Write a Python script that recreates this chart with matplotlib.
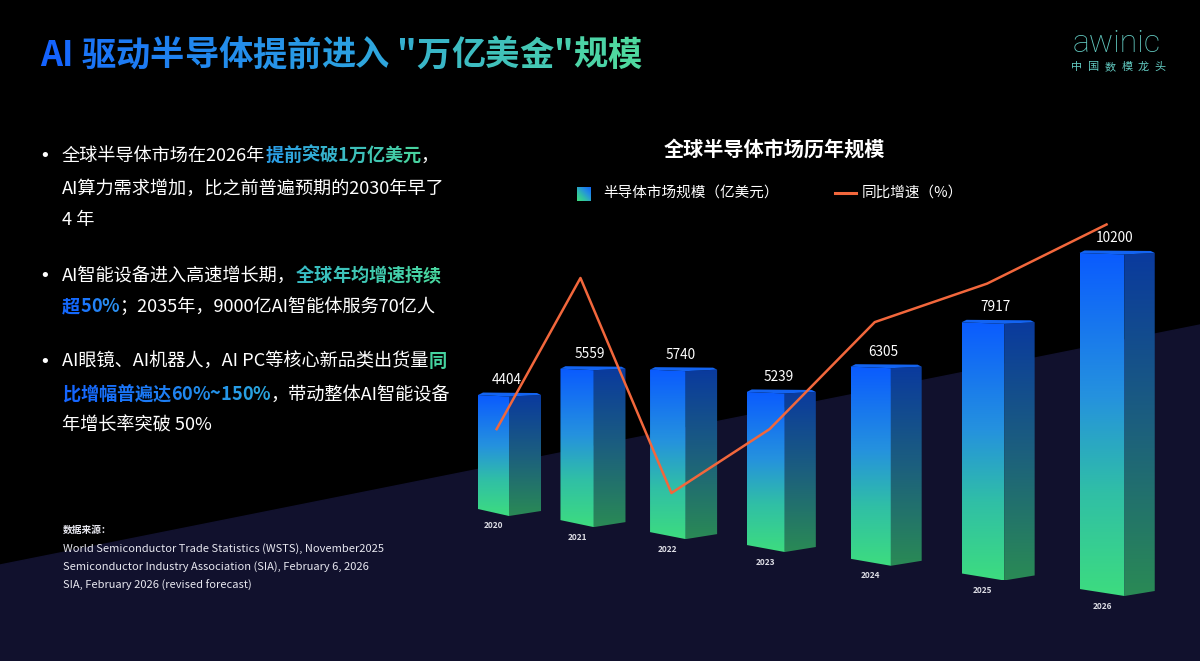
import numpy as np
import matplotlib
matplotlib.use("Agg")
import matplotlib.pyplot as plt
from matplotlib.colors import LinearSegmentedColormap, to_rgb
from matplotlib.patches import Polygon

plt.rcParams["font.family"] = ["Noto Sans CJK SC", "DejaVu Sans"]

# data
years = ["2020", "2021", "2022", "2023", "2024", "2025", "2026"]
market_size = [4404, 5559, 5740, 5239, 6305, 7917, 10200]  # 亿美元
yoy_growth = [10.1, 26.2, 3.3, 10.1, 21.5, 25.6, 31.9]

title_text = "AI 驱动半导体提前进入 \"万亿美金\"规模"
chart_title = "全球半导体市场历年规模"
legend_bar = "半导体市场规模（亿美元）"
legend_line = "同比增速（%）"
sources = [
    "World Semiconductor Trade Statistics (WSTS), November2025",
    "Semiconductor Industry Association (SIA), February 6, 2026",
    "SIA, February 2026 (revised forecast)",
]

# colours
front_cmap = LinearSegmentedColormap.from_list(
    "front", [(0, "#0a5bff"), (0.42, "#2592de"), (0.7, "#30bfa6"), (1, "#3ddc7f")])
side_cmap = LinearSegmentedColormap.from_list(
    "side", [(0, "#0a3a9e"), (0.5, "#1c5f7e"), (1, "#2a8a55")])
title_cmap = LinearSegmentedColormap.from_list(
    "title", ["#1463ff", "#2a9fe2", "#4fd8a0"])

fig = plt.figure(figsize=(12, 6.61), dpi=100, facecolor="black")
ax = fig.add_axes([0, 0, 1, 1])
ax.set_facecolor("black")
ax.set_xlim(0, 1200)
ax.set_ylim(661, 0)
ax.set_autoscale_on(False)
ax.axis("off")

# dark floor
ax.add_patch(Polygon([(0, 565), (1200, 325), (1200, 661), (0, 661)],
                     closed=True, color="#11112d", zorder=0))


def blend(c0, c1, t):
    a, b = np.array(to_rgb(c0)), np.array(to_rgb(c1))
    return tuple(a + (b - a) * t)


def draw_runs(x, y, runs, size):
    """runs: (text, colour, end colour or None, bold)"""
    prev = None
    for text, c0, c1, bold in runs:
        pieces = list(text) if c1 else [text]
        for k, ch in enumerate(pieces):
            col = blend(c0, c1, k / max(len(pieces) - 1, 1)) if c1 else c0
            kw = dict(fontsize=size, color=col, fontweight="bold" if bold else "normal")
            if prev is None:
                prev = ax.text(x, y, ch, ha="left", va="center", **kw)
            else:
                prev = ax.annotate(ch, xy=(1, 0), xycoords=prev, ha="left", va="bottom", **kw)


# title, gradient per character
prev = None
n = len(title_text)
for k, ch in enumerate(title_text):
    col = title_cmap(k / (n - 1))
    if prev is None:
        prev = ax.text(40, 55, ch, fontsize=24.7, fontweight="bold", color=col, ha="left", va="center")
    else:
        prev = ax.annotate(ch, xy=(1, 0), xycoords=prev, fontsize=24.7, fontweight="bold",
                           color=col, ha="left", va="bottom")

# logo
ax.text(1117, 43, "awinic", fontsize=23, color="#62c9c0", ha="center", va="center",
        family=["Roboto", "DejaVu Sans"], fontweight="light")
for k, ch in enumerate("中国数模龙头"):
    ax.text(1077 + k * 16.6, 67, ch, fontsize=8, color="#62c9c0", ha="center", va="center")

# bullets
W = "white"
bullet_lines = [
    (156, True, [("全球半导体市场在2026年", W, None, False),
                 ("提前突破1万亿美元", "#2b9fe6", "#48d3a0", True),
                 ("，", W, None, False)]),
    (189, False, [("AI算力需求增加，比之前普遍预期的2030年早了", W, None, False)]),
    (220, False, [("4 年", W, None, False)]),
    (276, True, [("AI智能设备进入高速增长期，", W, None, False),
                 ("全球年均增速持续", "#38bcc4", "#48d6a0", True)]),
    (307, False, [("超50%", "#1469ff", "#2a8ff2", True),
                  ("；2035年，9000亿AI智能体服务70亿人", W, None, False)]),
    (362, True, [("AI眼镜、AI机器人，AI PC等核心新品类出货量", W, None, False),
                 ("同", "#45d3a0", None, True)]),
    (394, False, [("比增幅普遍达60%~150%", "#1566ff", "#2aa5e0", True),
                  ("，带动整体AI智能设备", W, None, False)]),
    (426, False, [("年增长率突破 50%", W, None, False)]),
]
for y, has_dot, runs in bullet_lines:
    if has_dot:
        ax.text(45, y, "•", fontsize=13, color=W, ha="center", va="center",
                family=["DejaVu Sans"])
    draw_runs(62, y, runs, 13.1)

# sources
ax.text(63, 530, "数据来源：", fontsize=7, color="#e8e8f0", fontweight="bold", ha="left", va="center")
for k, s in enumerate(sources):
    ax.text(63, 549 + k * 18, s, fontsize=8, color="#e8e8f0", ha="left", va="center")

# chart title and legend
ax.text(774, 149, chart_title, fontsize=14.5, fontweight="bold", color=W, ha="center", va="center")
gx, gy = np.meshgrid(np.linspace(0, 1, 32), np.linspace(0, 1, 32))
ax.imshow(front_cmap(1 - (gx + (1 - gy)) / 2 * 0.9), extent=(577, 591, 201, 187),
          origin="upper", aspect="auto", zorder=3)
ax.text(603, 193, legend_bar, fontsize=10.5, color=W, ha="left", va="center")
ax.plot([835, 856], [193, 193], color="#f2673c", lw=2.2)
ax.text(862, 193, legend_line, fontsize=10.5, color=W, ha="left", va="center")

# pseudo 3D bars in perspective
grad = np.linspace(0, 1, 256).reshape(-1, 1)
line_x = []
for i, (yr, v) in enumerate(zip(years, market_size)):
    xl = 478 + 78.9 * i + 3.56 * i ** 2
    wf = 31 + 2.33 * i
    ws = 32 - 0.3 * i
    xc, xr = xl + wf, xl + wf + ws
    yb = 516 + 10.67 * i + 0.444 * i ** 2
    k = 0.02747 + 0.001027 * i
    yt = yb - v * k

    front = Polygon([(xl, yt), (xc, yt + 1.5), (xc, yb), (xl, yb - 7)],
                    closed=True, transform=ax.transData)
    side = Polygon([(xc, yt + 1.5), (xr, yt), (xr, yb - 5), (xc, yb)],
                   closed=True, transform=ax.transData)
    im = ax.imshow(front_cmap(grad), extent=(xl, xc, yb, yt), origin="upper",
                   aspect="auto", zorder=2, interpolation="bilinear")
    im.set_clip_path(front)
    im = ax.imshow(side_cmap(grad), extent=(xc, xr, yb, yt), origin="upper",
                   aspect="auto", zorder=2, interpolation="bilinear")
    im.set_clip_path(side)
    ax.add_patch(Polygon([(xl, yt), (xc, yt + 1.5), (xr, yt), (xr - 4, yt - 2), (xl + 5, yt - 2.5)],
                         closed=True, color="#1364f2", zorder=2.5, lw=0))

    ax.text((xl + xr) / 2 - 3, yt - 15, f"{v}", fontsize=9.8, color=W, ha="center", va="center",
            zorder=4)
    ax.text(xl + wf / 2, yb + 10, yr, fontsize=6, color="#dcdce4", fontweight="bold",
            ha="center", va="center")
    line_x.append(xl + 0.6 * wf)

ax.set_xlim(0, 1200)
ax.set_ylim(661, 0)

# growth line on its own axis (0% sits near the bar base)
ax2 = fig.add_axes([0, 0, 1, 1])
ax2.patch.set_alpha(0)
ax2.set_xlim(0, 1200)
ax2.set_ylim(-137 / 9.39, 524 / 9.39)
ax2.axis("off")
ax2.plot(line_x, yoy_growth, color="#f2673c", lw=1.8)

fig.savefig("out.png", dpi=100, facecolor="black")
